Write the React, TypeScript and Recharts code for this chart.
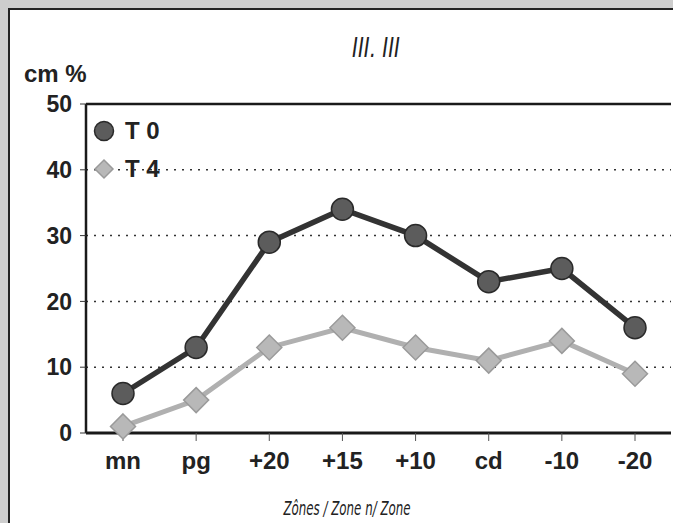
import React from "react";
import {
  CartesianGrid,
  Legend,
  Line,
  LineChart,
  ReferenceLine,
  XAxis,
  YAxis,
} from "recharts";

const zones = ["mn", "pg", "+20", "+15", "+10", "cd", "-10", "-20"];
const t0 = [6, 13, 29, 34, 30, 23, 25, 16];
const t4 = [1, 5, 13, 16, 13, 11, 14, 9];
const yTicks = [0, 10, 20, 30, 40, 50];

const data = zones.map((zone, i) => ({ zone, t0: t0[i], t4: t4[i] }));

const FONT = '"Liberation Sans", Arial, sans-serif';
const NARROW = '"Liberation Sans Narrow", "DejaVu Sans Condensed", sans-serif';

const Diamond = (props: any) => {
  const { cx, cy, index } = props;
  const s = 12.5;
  return (
    <path
      key={`d-${index}`}
      d={`M${cx},${cy - s}L${cx + s},${cy}L${cx},${cy + s}L${cx - s},${cy}Z`}
      fill="#b8b8b8"
      stroke="#9a9a9a"
      strokeWidth={1.5}
    />
  );
};

// x-axis caption, squeezed to the narrow width of the original
const AxisCaption = (props: any) => {
  const vb = props.viewBox || {};
  const cx = vb.x + vb.width / 2 - 32;
  const y = vb.y + vb.height - 8;
  return (
    <text
      x={cx - 63}
      y={y}
      textLength={127}
      lengthAdjust="spacingAndGlyphs"
      fontFamily={NARROW}
      fontStyle="italic"
      fontSize={19}
      fill="#222"
    >
      Zônes / Zone n/ Zone
    </text>
  );
};

const LegendBox = () => (
  <div style={{ fontFamily: FONT, fontWeight: "bold", fontSize: 24, color: "#222" }}>
    <div style={{ display: "flex", alignItems: "center", height: 38 }}>
      <svg width={24} height={24}>
        <circle cx={12} cy={12} r={9.5} fill="#5c5c5c" stroke="#2a2a2a" strokeWidth={1.5} />
      </svg>
      <span style={{ marginLeft: 9 }}>T 0</span>
    </div>
    <div style={{ display: "flex", alignItems: "center", height: 38 }}>
      <svg width={24} height={24}>
        <path d="M12,3L21,12L12,21L3,12Z" fill="#b8b8b8" stroke="#9a9a9a" strokeWidth={1.5} />
      </svg>
      <span style={{ marginLeft: 9 }}>T 4</span>
    </div>
  </div>
);

export default function App() {
  return (
    <div
      style={{
        position: "absolute",
        left: 0,
        top: 0,
        width: 673,
        height: 523,
        overflow: "hidden",
        background: "#cdcdcd",
      }}
    >
      <div
        style={{
          position: "absolute",
          left: 8,
          top: 8,
          width: 720,
          height: 600,
          background: "#fff",
          borderTop: "2px solid #222",
          borderLeft: "2px solid #222",
        }}
      />
      <svg style={{ position: "absolute", left: 0, top: 0 }} width={673} height={80}>
        <text
          x={352}
          y={57}
          textLength={48}
          lengthAdjust="spacingAndGlyphs"
          fontFamily={NARROW}
          fontStyle="italic"
          fontSize={26}
          fill="#222"
        >
          III. III
        </text>
      </svg>
      <div
        style={{
          position: "absolute",
          left: 24,
          top: 60,
          fontFamily: FONT,
          fontWeight: "bold",
          fontSize: 24,
          color: "#222",
        }}
      >
        cm %
      </div>
      <div style={{ position: "absolute", left: 0, top: 0 }}>
        <LineChart
          width={673}
          height={523}
          data={data}
          margin={{ top: 104, right: 2, left: 0, bottom: 0 }}
          style={{ fontFamily: FONT }}
        >
          <CartesianGrid
            vertical={false}
            stroke="#333"
            strokeWidth={1.5}
            strokeDasharray="2 6"
          />
          <XAxis
            dataKey="zone"
            height={90}
            padding={{ left: 37, right: 36 }}
            axisLine={{ stroke: "#1a1a1a", strokeWidth: 3 }}
            tickLine={{ stroke: "#555" }}
            tickSize={8}
            tickMargin={11}
            tick={{ fontSize: 24, fontWeight: "bold", fill: "#222" }}
            interval={0}
            label={<AxisCaption />}
          />
          <YAxis
            domain={[0, 50]}
            ticks={yTicks}
            width={86}
            axisLine={{ stroke: "#1a1a1a", strokeWidth: 2.5 }}
            tickLine={{ stroke: "#333" }}
            tickSize={6}
            tickMargin={8}
            tick={{ fontSize: 23, fontWeight: "bold", fill: "#222" }}
          />
          <YAxis yAxisId="right" orientation="right" width={0} tick={false} tickLine={false} axisLine={{ stroke: "#1a1a1a", strokeWidth: 1.5 }} />
          <ReferenceLine y={50} stroke="#1a1a1a" strokeWidth={2.5} />
          <Legend
            layout="horizontal"
            align="center"
            verticalAlign="middle"
            wrapperStyle={{ left: 92, top: 112, width: 120 }}
            content={() => <LegendBox />}
          />
          <Line
            name="T 4"
            dataKey="t4"
            stroke="#b0b0b0"
            strokeWidth={5}
            dot={<Diamond />}
            isAnimationActive={false}
          />
          <Line
            name="T 0"
            dataKey="t0"
            stroke="#333"
            strokeWidth={5.5}
            dot={{ r: 11, fill: "#5c5c5c", stroke: "#2a2a2a", strokeWidth: 1.5 }}
            isAnimationActive={false}
          />
        </LineChart>
      </div>
    </div>
  );
}
